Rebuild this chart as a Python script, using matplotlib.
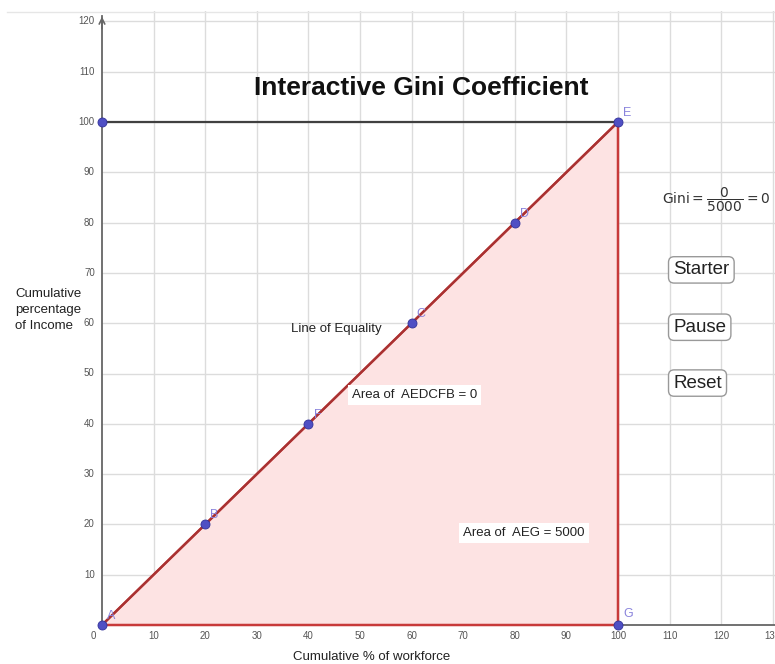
import matplotlib.pyplot as plt
from matplotlib.lines import Line2D
import numpy as np

plt.rcParams['font.family'] = ['Liberation Sans', 'DejaVu Sans']

# Lorenz points (line of equality) and the extra points
point_names = ['A', 'B', 'F', 'C', 'D', 'E']
point_x = [0, 20, 40, 60, 80, 100]
point_y = [0, 20, 40, 60, 80, 100]
g_point = (100, 0)
top_point = (0, 100)

x_ticks = [10, 20, 30, 40, 50, 60, 70, 80, 90, 100, 110, 120, 130]
y_ticks = [10, 20, 30, 40, 50, 60, 70, 80, 90, 100, 110, 120]

area_lorenz = 0
area_total = 5000
gini = area_lorenz / area_total
buttons = ['Starter', 'Pause', 'Reset']
button_y = [70.6, 59.2, 48.1]

fig = plt.figure(figsize=(7.75, 6.64), dpi=100)
ax = fig.add_axes([102 / 775, 39 / 664, 673 / 775, 614 / 664])
ax.set_xlim(0, 673 / 5.16)
ax.set_ylim(0, 614 / 5.03)
for s in ax.spines.values():
    s.set_visible(False)
ax.set_xticks([])
ax.set_yticks([])

# grid
for t in x_ticks:
    ax.axvline(t, color='#dcdcdc', lw=1, zorder=0)
for t in y_ticks:
    ax.axhline(t, color='#dcdcdc', lw=1, zorder=0)

# axes lines
ax.plot([0, 0], [0, 121], color='#666666', lw=1.3, zorder=2, clip_on=False)
ax.annotate('', xy=(0, 121.5), xytext=(0, 118), annotation_clip=False,
            arrowprops=dict(arrowstyle='->', color='#666666', lw=1.2))
ax.plot([0, 130.5], [0, 0], color='#666666', lw=1.3, zorder=2, clip_on=False)

# tick labels
for t in x_ticks:
    ax.text(t, -2.2, str(t), ha='center', va='center', fontsize=7, color='#555555', clip_on=False)
for t in y_ticks:
    ax.text(-1.4, t, str(t), ha='right', va='center', fontsize=7, color='#555555', clip_on=False)
ax.text(-1.7, -2.2, '0', ha='center', va='center', fontsize=7, color='#555555', clip_on=False)

# top line y=100
ax.plot([top_point[0], point_x[-1]], [top_point[1], point_y[-1]], color='#404040', lw=1.6, zorder=3)

# triangle AEG
tri_x = [point_x[0], point_x[-1], g_point[0], point_x[0]]
tri_y = [point_y[0], point_y[-1], g_point[1], point_y[0]]
ax.fill(tri_x, tri_y, color='#fde3e3', zorder=1)
ax.plot(tri_x, tri_y, color='#c83a3a', lw=1.8, zorder=3, clip_on=False)
ax.plot(point_x, point_y, color='#a83232', lw=1.6, zorder=3)

# points
pts_x = point_x + [g_point[0], top_point[0]]
pts_y = point_y + [g_point[1], top_point[1]]
ax.plot(pts_x, pts_y, 'o', ms=6.5, color='#4f4fc4', mec='#33339a', mew=0.6,
        zorder=5, clip_on=False)
for name, x, y in zip(point_names, point_x, point_y):
    ax.text(x + 1.0, y + 1.2, name, fontsize=9, color='#8a84dc', zorder=6)
ax.text(g_point[0] + 1.0, g_point[1] + 1.6, 'G', fontsize=9, color='#8a84dc', zorder=6)

# title and labels
ax.text(61.8, 106.8, 'Interactive Gini Coefficient', ha='center', va='center',
        fontsize=19, fontweight='bold', color='#111111')
ax.text(36.6, 58.8, 'Line of Equality', ha='left', va='center', fontsize=9.5, color='#222222')
ax.text(48.5, 45.7, f'Area of  AEDCFB = {area_lorenz}', ha='left', va='center',
        fontsize=9.5, color='#222222',
        bbox=dict(boxstyle='square,pad=0.3', fc='white', ec='none'))
ax.text(70.0, 18.3, f'Area of  AEG = {area_total}', ha='left', va='center',
        fontsize=9.5, color='#222222',
        bbox=dict(boxstyle='square,pad=0.3', fc='white', ec='none'))

ax.text(108.5, 84.5, r'$\mathrm{Gini} = \dfrac{%d}{%d} = %g$' % (area_lorenz, area_total, gini),
        ha='left', va='center', fontsize=10, color='#333333', clip_on=False)

for label, y in zip(buttons, button_y):
    ax.text(110.7, y, label, ha='left', va='center', fontsize=13.5, color='#222222',
            bbox=dict(boxstyle='round,pad=0.25,rounding_size=0.3', fc='white', ec='#999999', lw=1))

fig.text(15 / 775, 1 - 310 / 664, 'Cumulative\npercentage\nof Income', ha='left', va='center',
         fontsize=9.5, color='#222222', linespacing=1.45)
fig.text(372 / 775, 1 - 657 / 664, 'Cumulative % of workforce', ha='center', va='center',
         fontsize=9.5, color='#222222')
fig.add_artist(Line2D([7 / 775, 1], [1 - 12 / 664, 1 - 12 / 664], color='#e6e6e6', lw=1))

fig.savefig('out.png', dpi=100)
